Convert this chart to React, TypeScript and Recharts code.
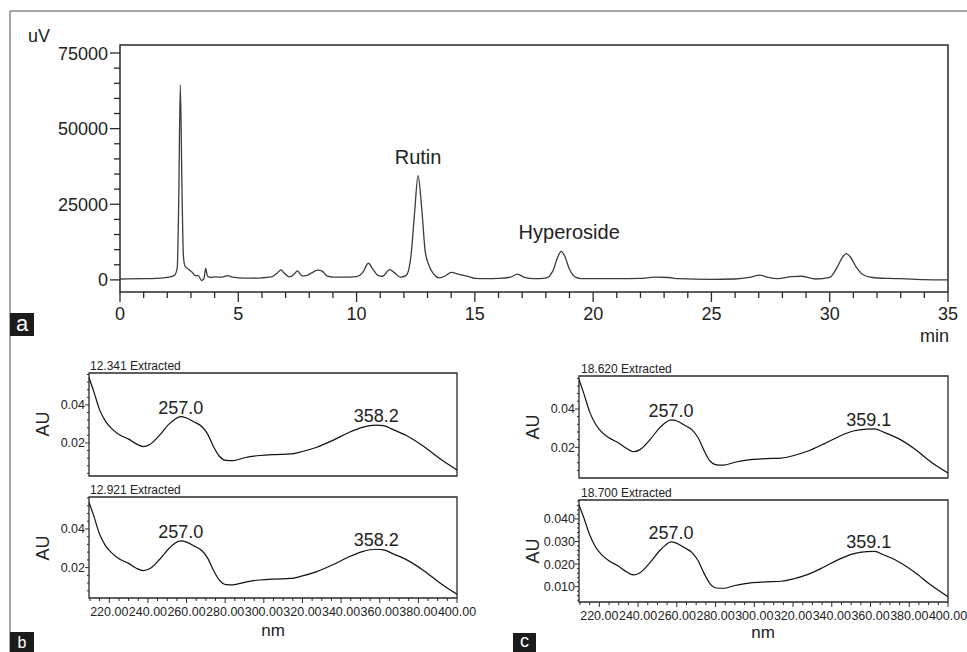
import React from 'react';
import { LineChart, Line, XAxis, YAxis, ReferenceArea, ReferenceDot } from 'recharts';

const FONT = 'Arial, "Liberation Sans", Helvetica, sans-serif';
const INK = '#222';
const AXIS = '#2a2a2a';

// (a) HPLC chromatogram, retention time (min) vs signal (uV)
const times = [
  0, 1, 1.5, 2.0, 2.3, 2.42, 2.48, 2.55, 2.62, 2.68, 2.75, 2.9, 3.05, 3.2, 3.3, 3.45, 3.55, 3.62,
  3.7, 3.85, 4.0, 4.3, 4.55, 4.75, 5.0, 5.5, 6.0, 6.4, 6.65, 6.8, 6.95, 7.15, 7.35, 7.5, 7.7, 7.9,
  8.1, 8.35, 8.55, 8.75, 9.0, 9.5, 10.0, 10.25, 10.5, 10.7, 10.9, 11.1, 11.4, 11.6, 11.85, 12.1,
  12.3, 12.45, 12.6, 12.75, 12.9, 13.05, 13.25, 13.5, 13.75, 14.0, 14.3, 14.7, 15.0, 15.5, 16.0,
  16.5, 16.8, 17.1, 17.5, 18.0, 18.3, 18.5, 18.65, 18.8, 19.0, 19.25, 19.5, 20, 21, 22, 22.6, 23.2,
  23.6, 25, 26, 26.6, 27.05, 27.4, 27.8, 28.4, 28.8, 29.4, 30.0, 30.3, 30.55, 30.7, 30.85, 31.1,
  31.4, 31.8, 32.5, 33, 34, 35,
];
const signal = [
  300, 400, 500, 800, 1500, 4000, 25000, 64500, 30000, 8000, 4500, 3500, 2500, 1300, 1500, -200, 500, 3800,
  1200, 800, 1000, 900, 1400, 900, 700, 600, 700, 1000, 2300, 3300, 2200, 1000, 1800, 3000, 1300, 1500,
  2300, 3200, 2900, 1300, 900, 900, 1100, 2300, 5500, 3400, 1500, 1200, 3400, 2400, 900, 1500,
  8000, 22000, 34500, 24000, 9500, 5000, 2000, 700, 1300, 2500, 1900, 1200, 500, 400, 500,
  900, 1900, 800, 400, 600, 3000, 7500, 9400, 7800, 3500, 900, 400, 400, 400, 500, 900, 800,
  400, 200, 300, 800, 1550, 800, 400, 1100, 1200, 300, 800, 4000, 7600, 8700, 7800, 4500,
  1800, 800, 500, 400, 100, 0,
];
const peakNames = [
  { t: 12.6, name: 'Rutin', dx: 0 },
  { t: 18.65, name: 'Hyperoside', dx: 8 },
];
const uvLabels = [0, 25000, 50000, 75000];
const uvTicks = Array.from({ length: 16 }, (_, i) => i * 5000);
const minLabels = [0, 5, 10, 15, 20, 25, 30, 35];
const minTicks = Array.from({ length: 36 }, (_, i) => i);

// (b)/(c) extracted UV spectra, wavelength (nm) vs absorbance (AU)
const wavelengths = [
  209.5, 212, 215, 218, 221, 225, 230, 234, 237.5, 241, 246, 251, 254, 257, 260, 264, 268, 271, 274,
  277, 280.5, 284, 290, 298, 306, 314, 320, 327, 336, 344, 351, 358, 362, 367, 374, 383, 391, 400,
];
const spec12341 = [
  0.0544, 0.047, 0.0374, 0.0315, 0.0278, 0.0245, 0.022, 0.0195, 0.0181, 0.0192, 0.024, 0.03, 0.0325,
  0.0338, 0.0331, 0.031, 0.0285, 0.0245, 0.018, 0.013, 0.0108, 0.0107, 0.0122, 0.0134, 0.0139, 0.0142,
  0.0155, 0.0176, 0.0215, 0.0255, 0.0282, 0.0294, 0.0291, 0.027, 0.0238, 0.018, 0.0118, 0.0058,
];
const spec12921 = [
  0.0538, 0.0466, 0.0372, 0.0314, 0.0279, 0.0246, 0.0222, 0.0197, 0.0185, 0.0195, 0.0242, 0.03, 0.0326,
  0.0338, 0.0332, 0.0311, 0.0287, 0.0248, 0.0185, 0.0135, 0.0112, 0.0111, 0.0124, 0.0136, 0.0141, 0.0144,
  0.0157, 0.0178, 0.0216, 0.0256, 0.0283, 0.0295, 0.0292, 0.0271, 0.024, 0.0183, 0.0122, 0.0062,
];
const spec18620 = [
  0.0555, 0.048, 0.0385, 0.0322, 0.0282, 0.025, 0.0222, 0.0195, 0.0177, 0.0188, 0.0238, 0.03, 0.0328,
  0.0343, 0.0337, 0.0315, 0.029, 0.025, 0.0185, 0.013, 0.0108, 0.0107, 0.0122, 0.0136, 0.0141, 0.0144,
  0.0156, 0.0178, 0.0218, 0.0258, 0.0285, 0.0295, 0.0296, 0.0278, 0.0248, 0.019, 0.0125, 0.0066,
];
const spec18700 = [
  0.0462, 0.0405, 0.033, 0.0277, 0.0243, 0.0215, 0.019, 0.0166, 0.0152, 0.0162, 0.0205, 0.0258, 0.0283,
  0.0298, 0.0292, 0.0272, 0.025, 0.0215, 0.016, 0.0115, 0.0094, 0.0093, 0.0105, 0.0117, 0.0121, 0.0124,
  0.0134, 0.0152, 0.0187, 0.0222, 0.0245, 0.0255, 0.0256, 0.024, 0.0213, 0.0163, 0.0108, 0.0055,
];
const rutinPeaks = [
  { nm: 257.0, text: '257.0' },
  { nm: 358.2, text: '358.2' },
];
const hyperosidePeaks = [
  { nm: 257.0, text: '257.0' },
  { nm: 359.1, text: '359.1' },
];
const nmLabels = [220, 240, 260, 280, 300, 320, 340, 360, 380, 400];
const NM_DOMAIN: [number, number] = [209.5, 400];

const ChromYTick = (props: any) => {
  const { x, y, payload } = props;
  const major = uvLabels.includes(payload.value);
  return (
    <g>
      <line x1={x} x2={x - (major ? 10 : 6)} y1={y} y2={y} stroke={AXIS} strokeWidth={1.3} />
      {major && (
        <text x={x - 12} y={y + 6.5} textAnchor="end" fontSize={18} fill={INK} fontFamily={FONT}>
          {payload.value}
        </text>
      )}
    </g>
  );
};

const ChromXTick = (props: any) => {
  const { x, y, payload } = props;
  const major = minLabels.includes(payload.value);
  return (
    <g>
      <line x1={x} x2={x} y1={y} y2={y + (major ? 10 : 6)} stroke={AXIS} strokeWidth={1.3} />
      {major && (
        <text x={x} y={y + 27.5} textAnchor="middle" fontSize={18} fill={INK} fontFamily={FONT}>
          {payload.value}
        </text>
      )}
    </g>
  );
};

function Chromatogram() {
  const data = times.map((t, i) => ({ t, uv: signal[i] }));
  const topAt = (t: number) =>
    Math.max(...signal.filter((_, i) => Math.abs(times[i] - t) < 0.3));
  return (
    <div style={{ position: 'absolute', left: 0, top: 0 }}>
      <LineChart width={967} height={340} data={data} margin={{ top: 45, right: 19, left: 0, bottom: 0 }}>
        <XAxis
          dataKey="t"
          type="number"
          domain={[0, 35]}
          allowDataOverflow
          ticks={minTicks}
          interval={0}
          height={48}
          tickSize={0}
          tickMargin={0}
          axisLine={false}
          tick={<ChromXTick />}
        />
        <YAxis
          type="number"
          domain={[-4000, 77650]}
          allowDataOverflow
          ticks={uvTicks}
          interval={0}
          width={120}
          tickSize={0}
          tickMargin={0}
          axisLine={false}
          tick={<ChromYTick />}
        />
        <ReferenceArea x1={0} x2={35} y1={-4000} y2={77650} fill="none" stroke={AXIS} strokeWidth={1.5} ifOverflow="visible" />
        <Line
          type="monotone"
          dataKey="uv"
          stroke="#3c3c3c"
          strokeWidth={1.3}
          dot={false}
          activeDot={false}
          isAnimationActive={false}
        />
        {peakNames.map((p) => (
          <ReferenceDot
            key={p.name}
            x={p.t}
            y={topAt(p.t)}
            r={0}
            fill="none"
            stroke="none"
            label={{ value: p.name, position: 'top', offset: 12, fontSize: 20, fill: INK, fontFamily: FONT, dx: p.dx }}
          />
        ))}
      </LineChart>
    </div>
  );
}

type SpecProps = {
  left: number;
  top: number;
  width: number;
  height: number;
  yDomain: [number, number];
  yLabels: number[];
  yStep: number;
  digits: number;
  values: number[];
  peaks: { nm: number; text: string }[];
  showX: boolean;
};

function Spectrum(p: SpecProps) {
  const ML = 60;
  const MT = 25;
  const MR = 30;
  const MB = 30;
  const data = wavelengths.map((nm, i) => ({ nm, au: p.values[i] }));
  const yTicks: number[] = [];
  for (let k = 1; k * p.yStep < p.yDomain[1]; k++) {
    const v = +(k * p.yStep).toFixed(4);
    if (v > p.yDomain[0]) yTicks.push(v);
  }
  const xTicks: number[] = [];
  for (let v = 210; v <= 400; v += 5) xTicks.push(v);
  const peakY = (nm: number) => {
    let best = 0;
    wavelengths.forEach((w, i) => {
      if (Math.abs(w - nm) <= 4 && p.values[i] > best) best = p.values[i];
    });
    return best;
  };

  const YTick = (props: any) => {
    const { x, y, payload } = props;
    const major = p.yLabels.some((v) => Math.abs(v - payload.value) < 1e-7);
    return (
      <g>
        <line x1={x} x2={x - (major ? 4 : 2)} y1={y} y2={y} stroke={AXIS} strokeWidth={1} />
        {major && (
          <text x={x - 4} y={y + 4.5} textAnchor="end" fontSize={12.5} fill={INK} fontFamily={FONT}>
            {payload.value.toFixed(p.digits)}
          </text>
        )}
      </g>
    );
  };
  const XTick = (props: any) => {
    const { x, y, payload } = props;
    const major = nmLabels.includes(payload.value);
    return (
      <g>
        <line x1={x} x2={x} y1={y} y2={y + (major ? 5 : 3)} stroke={AXIS} strokeWidth={1} />
        {major && (
          <text x={x} y={y + 18} textAnchor="middle" fontSize={12.5} fill={INK} fontFamily={FONT}>
            {payload.value.toFixed(2)}
          </text>
        )}
      </g>
    );
  };

  return (
    <div style={{ position: 'absolute', left: p.left - ML, top: p.top - MT }}>
      <LineChart
        width={p.width + ML + MR}
        height={p.height + MT + MB}
        data={data}
        margin={{ top: MT, right: MR, left: 0, bottom: p.showX ? 0 : MB }}
      >
        <XAxis
          dataKey="nm"
          type="number"
          domain={NM_DOMAIN}
          allowDataOverflow
          ticks={xTicks}
          interval={0}
          hide={!p.showX}
          height={MB}
          tickSize={0}
          tickMargin={0}
          axisLine={false}
          tick={<XTick />}
        />
        <YAxis
          type="number"
          domain={p.yDomain}
          allowDataOverflow
          ticks={yTicks}
          interval={0}
          width={ML}
          tickSize={0}
          tickMargin={0}
          axisLine={false}
          tick={<YTick />}
        />
        <ReferenceArea
          x1={NM_DOMAIN[0]}
          x2={NM_DOMAIN[1]}
          y1={p.yDomain[0]}
          y2={p.yDomain[1]}
          fill="none"
          stroke={AXIS}
          strokeWidth={1.3}
          ifOverflow="visible"
        />
        <Line
          type="monotone"
          dataKey="au"
          stroke="#111"
          strokeWidth={1.2}
          dot={false}
          activeDot={false}
          isAnimationActive={false}
        />
        {p.peaks.map((pk) => (
          <ReferenceDot
            key={pk.text}
            x={pk.nm}
            y={peakY(pk.nm)}
            r={0}
            fill="none"
            stroke="none"
            label={{ value: pk.text, position: 'top', offset: 3, fontSize: 18, fill: INK, fontFamily: FONT }}
          />
        ))}
      </LineChart>
    </div>
  );
}

function Annotations() {
  const txt = { fontFamily: FONT, fill: INK };
  return (
    <svg
      width={967}
      height={652}
      style={{ position: 'absolute', left: 0, top: 0, pointerEvents: 'none' }}
    >
      <line x1={10} y1={11} x2={967} y2={11} stroke="#8a8a8a" strokeWidth={1.5} />
      <line x1={10} y1={11} x2={10} y2={652} stroke="#8a8a8a" strokeWidth={1.5} />

      <text x={28} y={42} fontSize={18} {...txt}>uV</text>
      <text x={949} y={342} fontSize={18} textAnchor="end" {...txt}>min</text>

      <text x={90} y={370} fontSize={12} {...txt}>12.341 Extracted</text>
      <text x={90} y={494} fontSize={12} {...txt}>12.921 Extracted</text>
      <text x={581} y={373} fontSize={12} {...txt}>18.620 Extracted</text>
      <text x={581} y={497} fontSize={12} {...txt}>18.700 Extracted</text>

      <text transform="translate(49,424) rotate(-90)" fontSize={18} textAnchor="middle" {...txt}>AU</text>
      <text transform="translate(49,548) rotate(-90)" fontSize={18} textAnchor="middle" {...txt}>AU</text>
      <text transform="translate(539,427) rotate(-90)" fontSize={18} textAnchor="middle" {...txt}>AU</text>
      <text transform="translate(539,551) rotate(-90)" fontSize={18} textAnchor="middle" {...txt}>AU</text>

      <text x={273} y={636} fontSize={17} textAnchor="middle" {...txt}>nm</text>
      <text x={763} y={638} fontSize={17} textAnchor="middle" {...txt}>nm</text>

      <rect x={10} y={313} width={24} height={23} fill="#1b1b1b" />
      <text x={22} y={331} fontSize={22} textAnchor="middle" fontFamily={FONT} fill="#fff">a</text>
      <rect x={10} y={632} width={24} height={20} fill="#1b1b1b" />
      <text x={22} y={648} fontSize={16} textAnchor="middle" fontFamily={FONT} fill="#fff">b</text>
      <rect x={513} y={633} width={23} height={19} fill="#1b1b1b" />
      <text x={524.5} y={647} fontSize={18} textAnchor="middle" fontFamily={FONT} fill="#fff">c</text>
    </svg>
  );
}

export default function App() {
  return (
    <div style={{ position: 'absolute', left: 0, top: 0, width: 967, height: 652, background: '#fff', overflow: 'hidden' }}>
      <Chromatogram />
      <Spectrum
        left={89}
        top={373}
        width={368}
        height={103}
        yDomain={[0.0026, 0.0568]}
        yLabels={[0.02, 0.04]}
        yStep={0.004}
        digits={2}
        values={spec12341}
        peaks={rutinPeaks}
        showX={false}
      />
      <Spectrum
        left={89}
        top={497}
        width={368}
        height={101}
        yDomain={[0.0043, 0.0565]}
        yLabels={[0.02, 0.04]}
        yStep={0.004}
        digits={2}
        values={spec12921}
        peaks={rutinPeaks}
        showX={true}
      />
      <Spectrum
        left={579}
        top={376}
        width={369}
        height={102}
        yDomain={[0.004, 0.0572]}
        yLabels={[0.02, 0.04]}
        yStep={0.004}
        digits={2}
        values={spec18620}
        peaks={hyperosidePeaks}
        showX={false}
      />
      <Spectrum
        left={579}
        top={500}
        width={369}
        height={102}
        yDomain={[0.0032, 0.0484]}
        yLabels={[0.01, 0.02, 0.03, 0.04]}
        yStep={0.002}
        digits={3}
        values={spec18700}
        peaks={hyperosidePeaks}
        showX={true}
      />
      <Annotations />
    </div>
  );
}
